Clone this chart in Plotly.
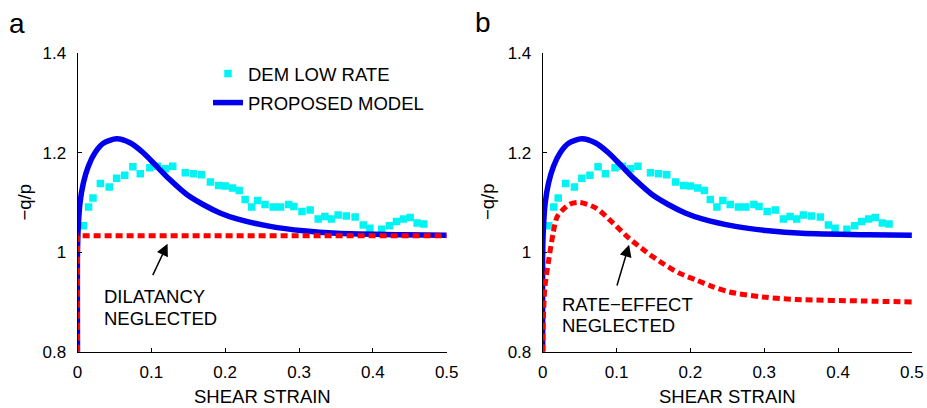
import plotly.graph_objects as go

# ---------------- data ----------------
dem_strain = [0.008, 0.015, 0.021, 0.031, 0.043, 0.053, 0.064, 0.075, 0.085, 0.098,
              0.108, 0.119, 0.129, 0.146, 0.157, 0.168, 0.180, 0.191, 0.200, 0.210,
              0.219, 0.227, 0.236, 0.244, 0.254, 0.265, 0.275, 0.286, 0.293, 0.304,
              0.315, 0.326, 0.335, 0.344, 0.353, 0.364, 0.376, 0.387, 0.396, 0.412,
              0.4225, 0.432, 0.4415, 0.4505, 0.460, 0.469]
dem_ratio = [1.053, 1.091, 1.109, 1.138, 1.131, 1.149, 1.155, 1.172, 1.158, 1.170,
             1.173, 1.168, 1.173, 1.160, 1.158, 1.156, 1.141, 1.134, 1.133, 1.129,
             1.124, 1.106, 1.091, 1.104, 1.096, 1.091, 1.091, 1.096, 1.092, 1.082,
             1.085, 1.067, 1.072, 1.067, 1.075, 1.073, 1.071, 1.055, 1.048, 1.046,
             1.053, 1.062, 1.067, 1.070, 1.059, 1.057]

model_strain = [0.0, 0.0, 0.001, 0.0034, 0.0079, 0.0147, 0.0237, 0.035, 0.053, 0.071,
                0.089, 0.107, 0.125, 0.148, 0.170, 0.193, 0.216, 0.261, 0.306, 0.351,
                0.441, 0.5]
model_ratio = [0.8, 1.0, 1.05, 1.099, 1.139, 1.173, 1.200, 1.219, 1.228, 1.220,
               1.200, 1.173, 1.146, 1.116, 1.096, 1.079, 1.067, 1.052, 1.043, 1.038,
               1.035, 1.034]

nodil_strain = [0.0, 0.0, 0.004, 0.5]
nodil_ratio = [0.8, 1.033, 1.033, 1.033]

norate_strain = [0.0, 0.001, 0.003, 0.0075, 0.0143, 0.0198, 0.036, 0.050, 0.072, 0.095,
                 0.117, 0.140, 0.162, 0.185, 0.208, 0.230, 0.253, 0.298, 0.343, 0.433, 0.5]
norate_ratio = [0.8, 0.87, 0.93, 0.978, 1.039, 1.072, 1.096, 1.100, 1.089, 1.059,
                1.028, 1.001, 0.978, 0.958, 0.944, 0.931, 0.920, 0.910, 0.905, 0.902, 0.900]

x_ticks = [0, 0.1, 0.2, 0.3, 0.4, 0.5]
x_ticklabels = ["0", "0.1", "0.2", "0.3", "0.4", "0.5"]
y_ticks = [0.8, 1.0, 1.2, 1.4]
y_ticklabels = ["0.8", "1", "1.2", "1.4"]

FONT = "Liberation Sans, Arial, sans-serif"
CYAN = "#00f4f4"
BLUE = "#0000ee"
RED = "#ff0000"

fig = go.Figure()

for i, (xa, ya) in enumerate([("x", "y"), ("x2", "y2")]):
    first = i == 0
    fig.add_trace(go.Scatter(x=dem_strain, y=dem_ratio, mode="markers", xaxis=xa, yaxis=ya,
                             marker=dict(symbol="square", size=7.5, color=CYAN, line=dict(width=0)),
                             name="DEM LOW RATE", showlegend=first, legendgroup="a"))
    fig.add_trace(go.Scatter(x=model_strain, y=model_ratio, mode="lines", xaxis=xa, yaxis=ya,
                             line=dict(color=BLUE, width=5.5, shape="spline", smoothing=0.8),
                             name="PROPOSED MODEL", showlegend=first, legendgroup="b"))
    if first:
        fig.add_trace(go.Scatter(x=nodil_strain, y=nodil_ratio, mode="lines", xaxis=xa, yaxis=ya,
                                 line=dict(color=RED, width=5, dash="7px,4px"),
                                 showlegend=False))
    else:
        fig.add_trace(go.Scatter(x=norate_strain, y=norate_ratio, mode="lines", xaxis=xa, yaxis=ya,
                                 line=dict(color=RED, width=5, dash="7px,4px", shape="spline", smoothing=0.8),
                                 showlegend=False))

axis_common = dict(showline=True, linecolor="black", linewidth=1, mirror=False,
                   ticks="inside", ticklen=4, tickcolor="black", showgrid=False,
                   zeroline=False, tickfont=dict(family=FONT, size=17, color="black"))

W, H = 927, 408
xd1 = [77.5 / W, 446.7 / W]
xd2 = [542.7 / W, 911.9 / W]
yd = [1 - 351.7 / H, 1 - 53.3 / H]

fig.update_layout(
    width=W, height=H,
    margin=dict(l=0, r=0, t=0, b=0, autoexpand=False),
    paper_bgcolor="white", plot_bgcolor="white",
    font=dict(family=FONT, color="black"),
    xaxis=dict(domain=xd1, range=[0, 0.5], tickvals=x_ticks, ticktext=x_ticklabels,
               anchor="y", ticklabelstandoff=5, **axis_common),
    yaxis=dict(domain=yd, range=[0.8, 1.4], tickvals=y_ticks, ticktext=y_ticklabels,
               anchor="x", ticklabelstandoff=7, **axis_common),
    xaxis2=dict(domain=xd2, range=[0, 0.5], tickvals=x_ticks, ticktext=x_ticklabels,
                anchor="y2", ticklabelstandoff=5, **axis_common),
    yaxis2=dict(domain=yd, range=[0.8, 1.4], tickvals=y_ticks, ticktext=y_ticklabels,
                anchor="x2", ticklabelstandoff=7, **axis_common),
    legend=dict(x=208 / W, y=1 - 55 / H, xanchor="left", yanchor="top",
                bgcolor="rgba(0,0,0,0)", font=dict(family=FONT, size=18.5, color="black"),
                tracegroupgap=2, itemwidth=30),
    showlegend=True,
)

ann = []
# axis titles
for cx in [(77.5 + 446.7) / 2, (542.7 + 911.9) / 2]:
    ann.append(dict(text="SHEAR STRAIN", x=cx / W, y=1 - 396 / H, xref="paper", yref="paper",
                    showarrow=False, xanchor="center", yanchor="middle",
                    font=dict(size=18.5, family=FONT)))
for cx in [23.5, 487]:
    ann.append(dict(text="\u2212q/p", x=cx / W, y=1 - 202 / H, xref="paper", yref="paper",
                    showarrow=False, xanchor="center", yanchor="middle", textangle=-90,
                    font=dict(size=18.5, family=FONT)))
# panel letters
ann.append(dict(text="a", x=17 / W, y=1 - 23 / H, xref="paper", yref="paper", showarrow=False,
                xanchor="center", yanchor="middle", font=dict(size=28, family=FONT)))
ann.append(dict(text="b", x=483 / W, y=1 - 22 / H, xref="paper", yref="paper", showarrow=False,
                xanchor="center", yanchor="middle", font=dict(size=28, family=FONT)))
# text labels
ann += [
    dict(text="DILATANCY", x=0.0336, y=0.910, xref="x", yref="y", showarrow=False,
         xanchor="left", yanchor="middle", font=dict(size=18.5, family=FONT)),
    dict(text="NEGLECTED", x=0.0336, y=0.866, xref="x", yref="y", showarrow=False,
         xanchor="left", yanchor="middle", font=dict(size=18.5, family=FONT)),
    dict(text="RATE\u2212EFFECT", x=0.0234, y=0.895, xref="x2", yref="y2", showarrow=False,
         xanchor="left", yanchor="middle", font=dict(size=18.5, family=FONT)),
    dict(text="NEGLECTED", x=0.0234, y=0.853, xref="x2", yref="y2", showarrow=False,
         xanchor="left", yanchor="middle", font=dict(size=18.5, family=FONT)),
    # arrows
    dict(text="", x=0.122, y=1.017, ax=0.101, ay=0.951, xref="x", yref="y", axref="x", ayref="y",
         showarrow=True, arrowhead=2, arrowsize=1.6, arrowwidth=1.5, arrowcolor="black"),
    dict(text="", x=0.117, y=1.015, ax=0.100, ay=0.930, xref="x2", yref="y2", axref="x2", ayref="y2",
         showarrow=True, arrowhead=2, arrowsize=1.6, arrowwidth=1.5, arrowcolor="black"),
]
fig.update_layout(annotations=ann)

fig.write_html("out.html", config={"displayModeBar": False},
               post_script="document.body.style.margin='0';document.body.style.overflow='hidden';")
